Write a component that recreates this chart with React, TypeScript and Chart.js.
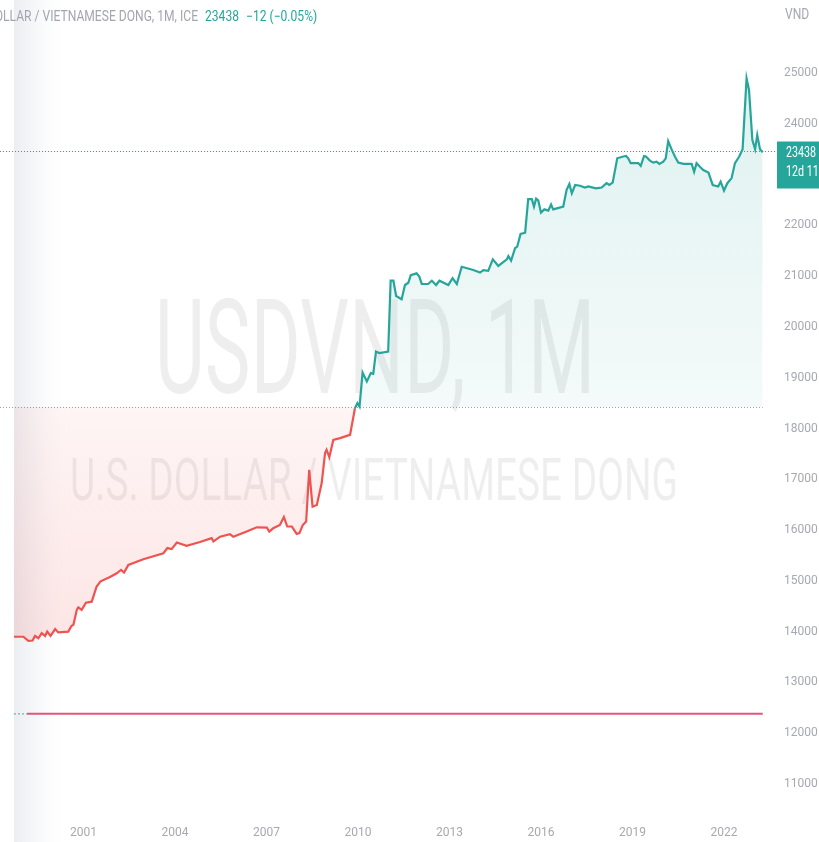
import React, { useEffect, useRef } from 'react';
import { Chart, registerables } from 'chart.js';

Chart.register(...registerables);

// ---- data (decimal year, VND per USD) ----
const dates: number[] = [
  1998.72, 1999.03, 1999.19, 1999.33, 1999.41, 1999.52, 1999.63, 1999.74, 1999.81, 1999.92,
  2000.07, 2000.17, 2000.5, 2000.61, 2000.67, 2000.78, 2000.83, 2000.94,
  2001.08, 2001.27, 2001.43, 2001.56, 2001.87,
  2002.09, 2002.23, 2002.33, 2002.47, 2002.96,
  2003.62, 2003.75, 2003.89,
  2004.06, 2004.38, 2004.82,
  2005.2, 2005.26, 2005.48, 2005.8, 2005.91,
  2006.35, 2006.68,
  2007.01, 2007.09, 2007.22, 2007.44, 2007.57, 2007.68, 2007.83, 2007.99,
  2008.08, 2008.19, 2008.3, 2008.4, 2008.51, 2008.65, 2008.81, 2008.92, 2008.97,
  2009.06, 2009.19, 2009.41, 2009.74, 2009.83, 2009.9, 2009.98,
  2010.05, 2010.15, 2010.29, 2010.42, 2010.5, 2010.59, 2010.7, 2010.99,
  2011.07, 2011.16, 2011.25, 2011.43, 2011.54, 2011.65, 2011.73, 2011.92,
  2012.01, 2012.09, 2012.3, 2012.42, 2012.56, 2012.67, 2012.96,
  2013.1, 2013.24, 2013.4, 2013.78,
  2014.0, 2014.11, 2014.27, 2014.42, 2014.6, 2014.88, 2014.93,
  2015.02, 2015.15, 2015.22, 2015.33, 2015.48, 2015.58, 2015.7, 2015.77, 2015.84, 2015.91,
  2016.0, 2016.11, 2016.24, 2016.33, 2016.4, 2016.73, 2016.84, 2016.93,
  2017.01, 2017.12, 2017.28, 2017.44, 2017.55, 2017.8, 2017.99,
  2018.15, 2018.24, 2018.35, 2018.5, 2018.7, 2018.79, 2018.86, 2018.94,
  2019.19, 2019.27, 2019.38, 2019.44, 2019.57, 2019.68, 2019.79, 2019.88,
  2020.01, 2020.09, 2020.17, 2020.29, 2020.39, 2020.5, 2020.67, 2020.94,
  2021.02, 2021.1, 2021.21, 2021.32, 2021.49, 2021.63, 2021.81, 2021.89,
  2022.0, 2022.11, 2022.25, 2022.36, 2022.5, 2022.61, 2022.74, 2022.82, 2022.93,
  2023.02, 2023.09, 2023.18, 2023.27,
];

const prices: number[] = [
  13900, 13900, 13820, 13825, 13915, 13870, 13970, 13915, 14000, 13915,
  14050, 13985, 14000, 14115, 14135, 14430, 14480, 14430,
  14570, 14590, 14890, 14990, 15075,
  15150, 15215, 15165, 15315, 15425,
  15545, 15645, 15625,
  15755, 15690, 15765,
  15840, 15775, 15870, 15920, 15870,
  15970, 16055,
  16050, 15970, 16035, 16100, 16255, 16070, 16070, 15925,
  15940, 16100, 16170, 17185, 16460, 16495, 16925, 17515, 17580,
  17435, 17775, 17810, 17875, 18170, 18400, 18500,
  18430, 19100, 18925, 19090, 19075, 19515, 19485, 19515,
  20910, 20910, 20610, 20545, 20825, 20870, 21020, 21055,
  20990, 20845, 20845, 20910, 20825, 20910, 20825,
  20960, 20845, 21185, 21120,
  21070, 21120, 21105, 21330, 21200, 21330, 21395,
  21305, 21550, 21580, 21830, 21855, 22515, 22515, 22370, 22525, 22490,
  22250, 22315, 22290, 22410, 22315, 22370, 22700, 22815,
  22630, 22795, 22780, 22745, 22765, 22730, 22745,
  22830, 22795, 22840, 23320, 23355, 23365, 23320, 23225,
  23225, 23170, 23365, 23355, 23275, 23235, 23255, 23210,
  23255, 23320, 23660, 23485, 23355, 23235, 23210, 23210,
  23055, 23225, 23155, 23090, 23040, 22795, 22765, 22860,
  22685, 22830, 22930, 23225, 23355, 23500, 24895, 24665, 23680,
  23500, 23780, 23500, 23438,
];

const BASELINE = 18425;
const LAST_PRICE = 23438;
const levelDates: number[] = [1999.15, 2023.27];
const levelValues: number[] = [12382, 12382];
const levelStubDates: number[] = [1998.72, 1999.15];
const levelStubValues: number[] = [12382, 12382];

const yTickValues: number[] = [11000, 12000, 13000, 14000, 15000, 16000, 17000, 18000, 19000, 20000, 21000, 22000, 23000, 24000, 25000];
const xTickYears: number[] = [2001, 2004, 2007, 2010, 2013, 2016, 2019, 2022];

const TITLE = 'U.S. DOLLAR / VIETNAMESE DONG, 1M, ICE';
const TITLE_VISIBLE = 'LLAR / VIETNAMESE DONG, 1M, ICE';
const TITLE_PRICE = '23438';
const TITLE_CHANGE = '\u221212 (\u22120.05%)';
const CURRENCY = 'VND';
const WATERMARK_1 = 'USDVND, 1M';
const WATERMARK_2 = 'U.S. DOLLAR / VIETNAMESE DONG';
const LABEL_PRICE = '23438';
const LABEL_TIME = '12d 11h';

// ---- styles ----
const TEAL = '#26a69a';
const RED = '#ef5350';
const LEVEL_COLOR = '#e2567b';
const AXIS_GRAY = '#a6a9b1';
const TITLE_GRAY = '#a3a6ae';
const FONT = 'Roboto, "Noto Sans", sans-serif';

const X_MIN = 1998.262;
const X_MAX = 2023.705;
const Y_MIN = 10390;
const Y_MAX = 26437;

function squishText(
  ctx: CanvasRenderingContext2D,
  text: string,
  x: number,
  y: number,
  fontPx: number,
  sx: number,
  align: CanvasTextAlign,
  color: string,
  baseline: CanvasTextBaseline = 'alphabetic'
) {
  ctx.save();
  ctx.font = `${fontPx}px ${FONT}`;
  ctx.translate(x, y);
  ctx.scale(sx, 1);
  ctx.textAlign = align;
  ctx.textBaseline = baseline;
  ctx.fillStyle = color;
  ctx.fillText(text, 0, 0);
  ctx.restore();
}

function scaleFor(ctx: CanvasRenderingContext2D, text: string, fontPx: number, targetW: number) {
  ctx.save();
  ctx.font = `${fontPx}px ${FONT}`;
  const w = ctx.measureText(text).width;
  ctx.restore();
  return w > 0 ? targetW / w : 1;
}

const decor = {
  id: 'decor',
  beforeDraw(chart: any) {
    const { ctx, width, height } = chart;
    const x = chart.scales.x;
    ctx.save();
    ctx.fillStyle = '#ffffff';
    ctx.fillRect(0, 0, width, height);
    const x0 = x.getPixelForValue(dates[0]);
    const g = ctx.createLinearGradient(x0, 0, x0 + 55, 0);
    g.addColorStop(0, 'rgba(233,235,239,0.9)');
    g.addColorStop(0.4, 'rgba(240,242,245,0.6)');
    g.addColorStop(1, 'rgba(255,255,255,0)');
    ctx.fillStyle = g;
    ctx.fillRect(x0, 0, 55, height);
    ctx.restore();
  },
  beforeDatasetsDraw(chart: any) {
    const { ctx, chartArea } = chart;
    const x = chart.scales.x;
    const y = chart.scales.y;
    const wmColor = 'rgba(0,0,0,0.065)';
    const cx = (chartArea.left + chartArea.right) / 2 - 13;
    const s1 = scaleFor(ctx, WATERMARK_1, 131, 440);
    squishText(ctx, WATERMARK_1, cx, 393, 131, s1, 'center', wmColor);
    const s2 = scaleFor(ctx, WATERMARK_2, 60, 608);
    squishText(ctx, WATERMARK_2, cx - 1, 500, 60, s2, 'center', wmColor);

    // baseline dotted line
    const by = Math.round(y.getPixelForValue(BASELINE)) + 0.5;
    ctx.save();
    ctx.strokeStyle = 'rgba(120,123,134,0.7)';
    ctx.lineWidth = 1;
    ctx.setLineDash([1, 2]);
    ctx.beginPath();
    ctx.moveTo(chartArea.left, by);
    ctx.lineTo(x.getPixelForValue(dates[dates.length - 1]), by);
    ctx.stroke();
    ctx.restore();
  },
  afterDraw(chart: any) {
    const { ctx, chartArea, width } = chart;
    const y = chart.scales.y;
    const py = Math.round(y.getPixelForValue(LAST_PRICE)) - 0.5;

    // last price dotted line
    ctx.save();
    ctx.strokeStyle = TEAL;
    ctx.lineWidth = 1;
    ctx.setLineDash([1, 2]);
    ctx.beginPath();
    ctx.moveTo(chartArea.left, py);
    ctx.lineTo(chartArea.right, py);
    ctx.stroke();
    ctx.restore();

    // price label box on the axis
    ctx.save();
    ctx.fillStyle = TEAL;
    ctx.fillRect(chartArea.right + 1, py - 10, width - chartArea.right, 47);
    ctx.restore();
    const sl = scaleFor(ctx, LABEL_PRICE, 14, 30);
    squishText(ctx, LABEL_PRICE, chartArea.right + 10, py + 2, 14, sl, 'left', '#ffffff', 'middle');
    squishText(ctx, LABEL_TIME, chartArea.right + 10, py + 21, 14, sl, 'left', '#ffffff', 'middle');

    // title
    const st = scaleFor(ctx, TITLE_VISIBLE, 14, 195);
    squishText(ctx, TITLE, 198, 21, 14, st, 'right', TITLE_GRAY);
    squishText(ctx, TITLE_PRICE, 205, 21, 14, st, 'left', TEAL);
    squishText(ctx, TITLE_CHANGE, 246, 21, 14, st, 'left', TEAL);

    // currency
    squishText(ctx, CURRENCY, chartArea.right + 9, 19, 14, st, 'left', AXIS_GRAY);
  },
};

export default function App() {
  const canvasRef = useRef<HTMLCanvasElement | null>(null);

  useEffect(() => {
    const canvas = canvasRef.current;
    if (!canvas) return;

    const mainPoints = dates.map((d, i) => ({ x: d, y: prices[i] }));
    const levelPoints = levelDates.map((d, i) => ({ x: d, y: levelValues[i] }));
    const stubPoints = levelStubDates.map((d, i) => ({ x: d, y: levelStubValues[i] }));

    const fillFn = (c: any) => {
      const chart = c.chart;
      const ys = chart.scales && chart.scales.y;
      if (!chart.chartArea || !ys) {
        return { target: { value: BASELINE }, above: 'rgba(38,166,154,0.1)', below: 'rgba(239,83,80,0.1)' };
      }
      const ctx = chart.ctx;
      const by = ys.getPixelForValue(BASELINE);
      const topY = ys.getPixelForValue(Math.max(...prices));
      const botY = ys.getPixelForValue(Math.min(...prices));
      const gTop = ctx.createLinearGradient(0, topY, 0, by);
      gTop.addColorStop(0, 'rgba(38,166,154,0.15)');
      gTop.addColorStop(1, 'rgba(38,166,154,0.05)');
      const gBot = ctx.createLinearGradient(0, by, 0, botY);
      gBot.addColorStop(0, 'rgba(239,83,80,0.06)');
      gBot.addColorStop(1, 'rgba(239,83,80,0.15)');
      return { target: { value: BASELINE }, above: gTop, below: gBot };
    };

    const chart = new Chart(canvas, {
      type: 'line',
      data: {
        datasets: [
          {
            label: 'USDVND',
            data: mainPoints,
            borderColor: TEAL,
            borderWidth: 2.2,
            pointRadius: 0,
            tension: 0,
            fill: fillFn as any,
            segment: {
              borderColor: (s: any) => ((s.p0.parsed.y + s.p1.parsed.y) / 2 >= BASELINE ? TEAL : RED),
            },
          },
          {
            label: 'Level',
            data: levelPoints,
            borderColor: LEVEL_COLOR,
            borderWidth: 2,
            pointRadius: 0,
            fill: false,
          },
          {
            label: 'Level start',
            data: stubPoints,
            borderColor: 'rgba(38,166,154,0.6)',
            borderWidth: 1.5,
            borderDash: [2, 2],
            pointRadius: 0,
            fill: false,
          },
        ],
      } as any,
      options: {
        animation: false,
        responsive: true,
        maintainAspectRatio: false,
        layout: { padding: 0 },
        plugins: {
          legend: { display: false },
          tooltip: { enabled: false },
        },
        scales: {
          x: {
            type: 'linear',
            min: X_MIN,
            max: X_MAX,
            grid: { display: false, drawTicks: false },
            border: { display: false },
            afterBuildTicks: (s: any) => {
              s.ticks = xTickYears.map((v) => ({ value: v }));
            },
            afterFit: (s: any) => {
              s.height = 27;
              s.paddingLeft = 0;
              s.paddingRight = 0;
            },
            ticks: {
              autoSkip: false,
              maxRotation: 0,
              padding: 11,
              color: AXIS_GRAY,
              font: { family: FONT, size: 12 },
              callback: (v: any) => String(v),
            },
          },
          y: {
            type: 'linear',
            position: 'right',
            min: Y_MIN,
            max: Y_MAX,
            grid: { display: false, drawTicks: false },
            border: { display: false },
            afterBuildTicks: (s: any) => {
              s.ticks = yTickValues.map((v) => ({ value: v }));
            },
            afterFit: (s: any) => {
              s.width = 43;
              s.paddingTop = 0;
              s.paddingBottom = 0;
            },
            ticks: {
              padding: 8,
              color: AXIS_GRAY,
              font: { family: FONT, size: 12 },
              callback: (v: any) => String(v),
            },
          },
        },
      } as any,
      plugins: [decor],
    });

    return () => {
      chart.destroy();
    };
  }, []);

  return (
    <div style={{ position: 'absolute', left: 0, top: 0, width: 819, height: 842, background: '#ffffff' }}>
      <canvas ref={canvasRef} />
    </div>
  );
}
